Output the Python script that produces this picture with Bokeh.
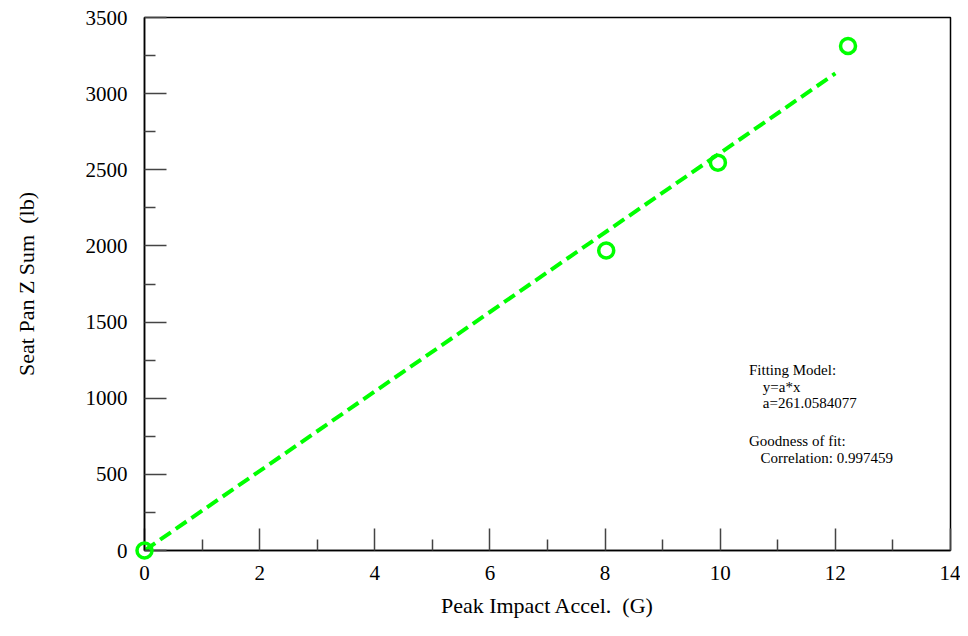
from bokeh.plotting import figure
from bokeh.models import FixedTicker, Range1d, Label
from bokeh.embed import file_html
from bokeh.resources import INLINE

accel = [0.0, 8.02, 9.96, 12.22]
force = [0.0, 1970, 2547, 3313]
fit_a = 261.0584077
fit_x = [0.0, 12.0]
fit_y = [fit_a * v for v in fit_x]

x_ticks = [0, 2, 4, 6, 8, 10, 12, 14]
x_minor = [1, 3, 5, 7, 9, 11, 13]
y_ticks = [0, 500, 1000, 1500, 2000, 2500, 3000, 3500]
y_minor = [250, 750, 1250, 1750, 2250, 2750, 3250]

notes = [
    ("Fitting Model:", 10.50, 1186),
    ("y=a*x", 10.74, 1076),
    ("a=261.0584077", 10.74, 966),
    ("Goodness of fit:", 10.50, 719),
    ("Correlation: 0.997459", 10.70, 609),
]

FONT = "Liberation Serif"
GREEN = "#00ff00"

p = figure(width=960, height=620, output_backend="svg", toolbar_location=None,
           x_range=Range1d(0, 14), y_range=Range1d(0, 3500),
           min_border_left=144, min_border_right=10, min_border_top=17, min_border_bottom=65)
p.xgrid.visible = False
p.ygrid.visible = False
p.outline_line_color = "black"
p.outline_line_width = 1.5
p.background_fill_color = "white"
p.border_fill_color = "white"

for ax in (p.xaxis[0], p.yaxis[0]):
    ax.axis_line_color = "black"
    ax.axis_line_width = 1.5
    ax.major_tick_in = 22
    ax.major_tick_out = 0
    ax.minor_tick_in = 11
    ax.minor_tick_out = 0
    ax.major_tick_line_color = "#444444"
    ax.minor_tick_line_color = "#444444"
    ax.major_tick_line_width = 1.5
    ax.minor_tick_line_width = 1.5
    ax.major_label_text_font = FONT
    ax.major_label_text_font_size = "21px"
    ax.major_label_text_color = "black"
    ax.axis_label_text_font = FONT
    ax.axis_label_text_font_size = "22px"
    ax.axis_label_text_font_style = "normal"
    ax.axis_label_text_color = "black"

p.xaxis[0].ticker = FixedTicker(ticks=x_ticks, minor_ticks=x_minor)
p.yaxis[0].ticker = FixedTicker(ticks=y_ticks, minor_ticks=y_minor)
p.xaxis[0].major_label_standoff = 15
p.yaxis[0].major_label_standoff = 17
p.xaxis[0].axis_label = "Peak Impact Accel.\u00a0 (G)"
p.yaxis[0].axis_label = "Seat Pan Z Sum\u00a0 (lb)"
p.xaxis[0].axis_label_standoff = 10
p.yaxis[0].axis_label_standoff = 44

p.line(fit_x, fit_y, line_color=GREEN, line_width=4, line_dash="13 6")
p.scatter(accel, force, marker="circle", size=15, fill_color=None,
          line_color=GREEN, line_width=3.5, level="overlay")

for txt, x, y in notes:
    p.add_layout(Label(x=x, y=y, text=txt, text_font=FONT, text_font_size="15px",
                       text_baseline="middle", text_color="black"))

open("out.html", "w").write(file_html(p, INLINE))
